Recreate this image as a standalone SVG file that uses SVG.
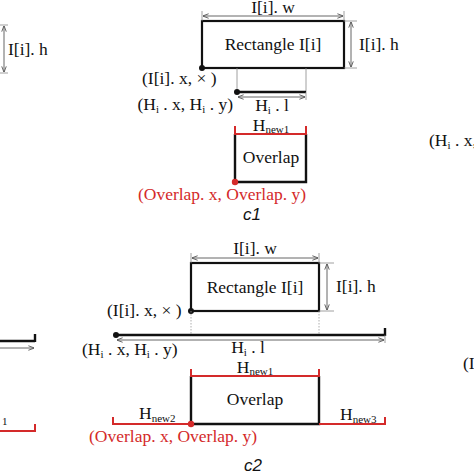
<svg xmlns="http://www.w3.org/2000/svg" width="474" height="474" viewBox="0 0 474 474">
<defs>
<marker id="ar" viewBox="0 0 8 8" refX="7.5" refY="4" markerWidth="6" markerHeight="6" orient="auto-start-reverse" markerUnits="userSpaceOnUse">
<path d="M0,1 L8,4 L0,7" fill="none" stroke="#555" stroke-width="1.2"/>
</marker>
</defs>
<style>
text{font-family:"Liberation Serif","Times New Roman",serif;font-size:17.5px;fill:#111}
.red{fill:#d42a2a}
.cap{font-family:"Liberation Sans",Arial,sans-serif;font-style:italic;font-size:17px;fill:#111}
.box{fill:#fff;stroke:#111;stroke-width:2.2}
.thick{stroke:#111;stroke-width:2.4;fill:none}
.dimA{stroke:#666;stroke-width:1;fill:none;marker-start:url(#ar);marker-end:url(#ar)}
.ext{stroke:#888;stroke-width:0.8;fill:none}
.dot{stroke:#999;stroke-width:0.8;stroke-dasharray:1.5 1.5;fill:none}
.rl{stroke:#d42a2a;stroke-width:2;fill:none}
.sub{font-size:11px}
</style>

<!-- ===== c1 panel ===== -->
<g id="c1-rect">
<rect class="box" x="202" y="21" width="142" height="47"/>
<text x="273" y="50" text-anchor="middle">Rectangle I[i]</text>
</g>
<g id="c1-width">
<line class="ext" x1="202" y1="11" x2="202" y2="21"/>
<line class="ext" x1="344" y1="11" x2="344" y2="21"/>
<line class="dimA" x1="203" y1="16" x2="343" y2="16"/>
<text x="273" y="13" text-anchor="middle">I[i]. w</text>
</g>
<g id="c1-height">
<line class="ext" x1="344" y1="21" x2="357" y2="21"/>
<line class="ext" x1="344" y1="68" x2="357" y2="68"/>
<line class="dimA" x1="351" y1="22" x2="351" y2="67"/>
<text x="359" y="50">I[i]. h</text>
</g>
<g id="c1-origin">
<circle cx="202" cy="68" r="3" fill="#111"/>
<text x="142" y="84">(I[i]. x, × )</text>
</g>
<g id="c1-H">
<line class="ext" x1="237" y1="68" x2="237" y2="92"/>
<line class="ext" x1="306" y1="68" x2="306" y2="92"/>
<line class="thick" x1="237" y1="92" x2="306" y2="92"/>
<circle cx="237" cy="92" r="3" fill="#111"/>
<line class="dimA" x1="238" y1="97" x2="305" y2="97"/>
<line class="ext" x1="306" y1="92" x2="306" y2="100"/>
<text x="233" y="110" text-anchor="end">(H<tspan class="sub" dy="3">i</tspan><tspan dy="-3"> . x, H</tspan><tspan class="sub" dy="3">i</tspan><tspan dy="-3"> . y)</tspan></text>
<text x="272" y="111" text-anchor="middle">H<tspan class="sub" dy="3">i</tspan><tspan dy="-3"> . l</tspan></text>
</g>
<g id="c1-overlap">
<path class="thick" d="M235,134 V182 H306 V134"/>
<path class="rl" d="M235,126 V134 H306 V126"/>
<text x="271" y="131" text-anchor="middle">H<tspan class="sub" dy="2">new1</tspan></text>
<text x="271" y="163" text-anchor="middle">Overlap</text>
<circle cx="235" cy="182" r="3.2" fill="#d42a2a"/>
<text class="red" x="222" y="200" text-anchor="middle">(Overlap. x, Overlap. y)</text>
</g>
<text class="cap" x="252" y="220" text-anchor="middle">c1</text>

<!-- left/right clipped fragments (top) -->
<g id="left-top">
<line class="ext" x1="0" y1="25" x2="8" y2="25"/>
<line class="ext" x1="0" y1="73" x2="8" y2="73"/>
<line class="dimA" x1="4" y1="26" x2="4" y2="72"/>
<text x="8" y="55">I[i]. h</text>
</g>
<g id="right-top">
<text x="429" y="146">(H<tspan class="sub" dy="3">i</tspan><tspan dy="-3"> . x, H</tspan><tspan class="sub" dy="3">i</tspan><tspan dy="-3"> . y)</tspan></text>
</g>

<!-- ===== c2 panel ===== -->
<g id="c2-rect">
<rect class="box" x="191" y="263" width="128" height="48"/>
<text x="255" y="293" text-anchor="middle">Rectangle I[i]</text>
</g>
<g id="c2-width">
<line class="ext" x1="191" y1="253" x2="191" y2="263"/>
<line class="ext" x1="319" y1="253" x2="319" y2="263"/>
<line class="dimA" x1="192" y1="258" x2="318" y2="258"/>
<text x="255" y="254" text-anchor="middle">I[i]. w</text>
</g>
<g id="c2-height">
<line class="ext" x1="319" y1="263" x2="334" y2="263"/>
<line class="ext" x1="319" y1="311" x2="334" y2="311"/>
<line class="dimA" x1="327" y1="264" x2="327" y2="310"/>
<text x="336" y="292">I[i]. h</text>
</g>
<g id="c2-origin">
<circle cx="191" cy="311" r="3" fill="#111"/>
<text x="107" y="316">(I[i]. x, × )</text>
</g>
<g id="c2-H">
<line class="dot" x1="191" y1="311" x2="191" y2="335"/>
<line class="dot" x1="319" y1="311" x2="319" y2="335"/>
<line class="thick" x1="116" y1="335" x2="385" y2="335"/>
<line class="thick" x1="385" y1="328" x2="385" y2="336"/>
<circle cx="116" cy="335" r="3" fill="#111"/>
<line class="dimA" x1="117" y1="340" x2="384" y2="340"/>
<line class="ext" x1="385" y1="335" x2="385" y2="343"/>
<text x="82" y="355">(H<tspan class="sub" dy="3">i</tspan><tspan dy="-3"> . x, H</tspan><tspan class="sub" dy="3">i</tspan><tspan dy="-3"> . y)</tspan></text>
<text x="248" y="353" text-anchor="middle">H<tspan class="sub" dy="3">i</tspan><tspan dy="-3"> . l</tspan></text>
</g>
<g id="c2-overlap">
<path class="thick" d="M191,376 V424 H319 V376"/>
<path class="rl" d="M191,369 V376 H319 V369"/>
<path class="rl" d="M113,417 V424 H191"/>
<path class="rl" d="M319,424 H385 V417"/>
<text x="255" y="373" text-anchor="middle">H<tspan class="sub" dy="2">new1</tspan></text>
<text x="255" y="405" text-anchor="middle">Overlap</text>
<text x="139" y="419">H<tspan class="sub" dy="3">new2</tspan></text>
<text x="340" y="420">H<tspan class="sub" dy="3">new3</tspan></text>
<circle cx="191" cy="424" r="3.2" fill="#d42a2a"/>
<text class="red" x="89" y="442">(Overlap. x, Overlap. y)</text>
</g>
<text class="cap" x="253" y="471" text-anchor="middle">c2</text>

<!-- left/right clipped fragments (bottom) -->
<g id="left-bottom">
<line class="thick" x1="0" y1="341" x2="35" y2="341"/>
<line class="thick" x1="35" y1="334" x2="35" y2="342"/>
<line class="dimA" x1="-20" y1="348" x2="34" y2="348"/>
<text class="sub" x="2" y="425">1</text>
<path class="rl" d="M0,431 H35 V424"/>
</g>
<g id="right-bottom">
<text x="463" y="369">(I[i]. x, × )</text>
</g>
</svg>
